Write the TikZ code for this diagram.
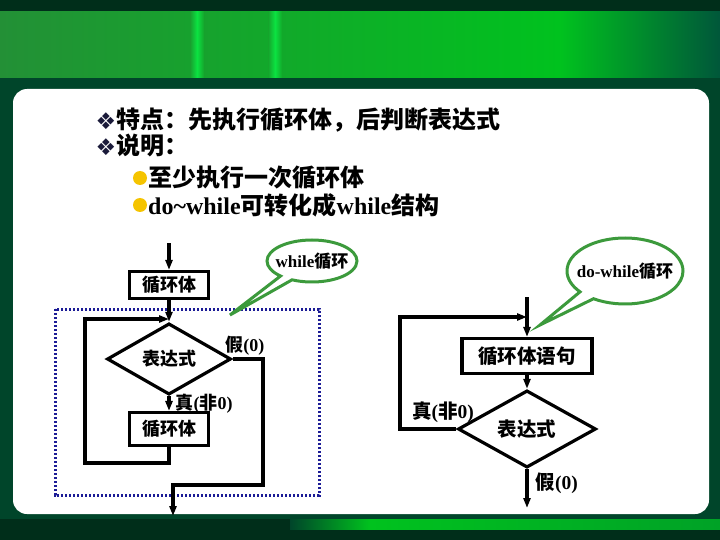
\documentclass[tikz,border=0pt]{standalone}
\usepackage{fontspec}
\setmainfont{Liberation Serif}
\newfontfamily\zhfont{Noto Sans CJK SC}
\newfontfamily\symfont{DejaVu Sans}
\newcommand\zh[1]{{\zhfont #1}}
\usetikzlibrary{positioning,shapes.geometric,shapes.callouts,arrows.meta}
\definecolor{frame}{HTML}{00452A}
\definecolor{deep}{HTML}{002E1A}
\definecolor{leaf}{HTML}{00C21E}
\definecolor{moss}{HTML}{239036}
\definecolor{teal}{HTML}{00573A}
\definecolor{streak}{HTML}{10F050}
\definecolor{bubble}{HTML}{3C9A3C}
\definecolor{navy}{HTML}{1C1C96}
\definecolor{dot}{HTML}{F5C400}
\definecolor{ink}{HTML}{1A1A3A}

\begin{document}
\begin{tikzpicture}[x=1pt,y=-1pt,>={Triangle[length=10pt,width=7pt]},node distance=74pt,on grid,
  box/.style={draw,line width=3.2pt,inner sep=0pt,minimum width=79pt,minimum height=27pt,font=\fontsize{18}{18}\selectfont\zhfont\bfseries},
  test/.style={diamond,draw,line width=3.2pt,inner sep=0pt,minimum width=124pt,minimum height=35pt,font=\fontsize{18}{18}\selectfont\zhfont\bfseries},
  link/.style={draw,line width=3.4pt},
  tag/.style={inner sep=2pt,font=\fontsize{18}{18}\selectfont\bfseries},
  note/.style={ellipse callout,draw=bubble,fill=white,line width=3pt,inner sep=0pt,callout pointer arc=18},
  itemtext/.style={anchor=west,inner sep=0pt,font=\fontsize{24}{24}\selectfont\bfseries}]
\useasboundingbox (0,0) rectangle (720,540);
\fill[frame] (0,0) rectangle (720,540);
\fill[deep] (0,0) rectangle (720,12);
\shade[left color=moss,right color=leaf] (0,12) rectangle (560,78);
\shade[left color=leaf,right color=teal] (560,12) rectangle (720,78);
\shade[left color=moss!70!leaf,right color=moss!60!leaf,middle color=streak!70!leaf] (190,12) rectangle (204,78);
\shade[left color=moss!60!leaf,right color=moss!50!leaf,middle color=streak!70!leaf] (268,12) rectangle (282,78);
\fill[deep] (0,519) rectangle (720,540);
\shade[left color=frame,right color=leaf] (290,519) rectangle (370,529);
\shade[left color=leaf,right color=leaf!70!teal] (370,519) rectangle (720,529);
\fill[white,rounded corners=14pt] (13,89) rectangle (709,514);

\node[ink,font=\fontsize{23}{23}\selectfont\symfont] (mark1) at (106,121) {❖};
\node[itemtext] (feature) at (116,120) {\zh{特点：先执行循环体，后判断表达式}};
\node[ink,font=\fontsize{23}{23}\selectfont\symfont] (mark2) at (106,147) {❖};
\node[itemtext] (remark) at (116,146) {\zh{说明：}};
\fill[dot] (140,178) circle (7pt);
\node[itemtext] (once) at (148,178) {\zh{至少执行一次循环体}};
\fill[dot] (140,205) circle (7pt);
\node[itemtext] (convert) at (148,205) {do\textasciitilde while\zh{可转化成}while\zh{结构}};

\draw[navy,line width=3pt,dash pattern=on 2.4pt off 1.6pt] (55,309) rectangle (319,495);

\node[box] (body) at (169,285) {循环体};
\node[test] (cond) at (169,359) {表达式};
\node[box,minimum height=33pt] (body2) [below=70pt of cond] {循环体};
\coordinate (in) at (169,243);
\coordinate (join) at (169,319);
\coordinate (loopL) at (85,463);
\coordinate (exitR) at (263,485);
\coordinate (out) at (173,516);
\path[link,->] (in) -- (body);
\path[link,->] (body.south) -- (cond.north);
\path[link,->] (cond.south) -- node[tag,right,xshift=3pt] {\zh{真}(\zh{非}0)} (body2.north);
\path[link,->] (body2.south) |- (loopL) |- (join);
\path[link,->] (cond.east) -| node[tag,above,pos=0.2] {\zh{假}(0)} (exitR) -| (out);

\node[note,minimum width=90pt,minimum height=42pt,callout absolute pointer={(230,315)}] (whilenote) at (312,261) {};
\node[tag,font=\fontsize{17}{17}\selectfont\bfseries] (whiletext) at (whilenote) {while\zh{循环}};

\tikzset{tag/.append style={font=\fontsize{19.5}{19.5}\selectfont\bfseries}}
\node[box,minimum width=130pt,minimum height=35pt,font=\fontsize{19.5}{19.5}\selectfont\zhfont\bfseries] (body3) at (527,356) {循环体语句};
\node[test,minimum width=138pt,minimum height=43pt,font=\fontsize{19.5}{19.5}\selectfont\zhfont\bfseries] (cond2) [below=73pt of body3] {表达式};
\coordinate (in2) at (527,297);
\coordinate (join2) at (527,317);
\coordinate (loopL2) at (400,317);
\coordinate (out2) at (527,508);
\path[link,->] (in2) -- (body3);
\path[link,->] (body3.south) -- (cond2.north);
\path[link,->] (cond2.west) -| (loopL2) -- (join2);
\node[tag] (yes2) at (443,412) {\zh{真}(\zh{非}0)};
\path[link,->] (cond2) -- node[tag,right,pos=0.35,xshift=5pt] {\zh{假}(0)} (out2);

\node[note,minimum width=116pt,minimum height=66pt,callout absolute pointer={(540,325)}] (donote) at (625,271) {};
\node[tag,font=\fontsize{17}{17}\selectfont\bfseries] (dotext) at (donote) {do-while\zh{循环}};
\end{tikzpicture}
\end{document}
